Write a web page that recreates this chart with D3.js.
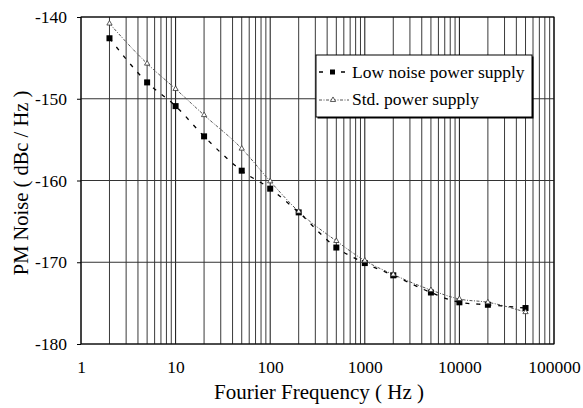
<!DOCTYPE html>
<html><head><meta charset="utf-8">
<script src="https://cdn.jsdelivr.net/npm/d3@7"></script>
<style>text{font-family:'Liberation Serif';}</style>
</head><body style="margin:0;background:#fff"><svg id="c" width="583" height="408" style="display:block" font-family="Liberation Serif"></svg>
<script>
const freqs = [2, 5, 10, 20, 50, 100, 200, 500, 1000, 2000, 5000, 10000, 20000, 50000];
const lowNoise = [-142.6, -148.0, -150.9, -154.6, -158.8, -161.0, -163.9, -168.2, -170.1, -171.6, -173.7, -174.9, -175.2, -175.6];
const stdSupply = [-140.8, -145.7, -148.8, -152.0, -156.1, -160.1, -163.8, -167.4, -169.8, -171.5, -173.4, -174.5, -174.9, -176.1];
const xTicks = [1, 10, 100, 1000, 10000, 100000];
const yTicks = [-180, -170, -160, -150, -140];
const seriesNames = ["Low noise power supply", "Std. power supply"];

const FONT = "Liberation Serif";
const svg = d3.select("#c");
const L = 81, R = 554, T = 17, B = 344;
const x = d3.scaleLog().domain([1, 100000]).range([L, R]);
const y = d3.scaleLinear().domain([-180, -140]).range([B, T]);

const minor = [];
for (let d = 1; d < 100000; d *= 10) for (let k = 2; k <= 9; k++) minor.push(d * k);
svg.append("g").selectAll("line").data(minor).join("line")
  .attr("x1", d => x(d)).attr("x2", d => x(d)).attr("y1", T).attr("y2", B)
  .attr("stroke", "#3a3a3a").attr("stroke-width", 1);
svg.append("g").selectAll("line").data(xTicks).join("line")
  .attr("x1", d => x(d)).attr("x2", d => x(d)).attr("y1", T).attr("y2", B)
  .attr("stroke", "#111").attr("stroke-width", 1);
svg.append("g").selectAll("line").data(yTicks).join("line")
  .attr("x1", L).attr("x2", R).attr("y1", d => y(d)).attr("y2", d => y(d))
  .attr("stroke", "#333").attr("stroke-width", 1);

svg.append("rect").attr("x", L).attr("y", T).attr("width", R - L).attr("height", B - T)
  .attr("fill", "none").attr("stroke", "#000").attr("stroke-width", 1);

const fmt = d => String(d);
const ya = d3.axisLeft(y).tickValues(yTicks).tickSize(4).tickPadding(10).tickFormat(fmt);
const gy = svg.append("g").attr("transform", `translate(${L},0)`).call(ya)
  .attr("font-family", FONT).attr("font-size", 17.5);
gy.select(".domain").remove();
gy.selectAll("text").attr("font-family", FONT).attr("font-size", 17.5).attr("fill", "#000");
const xa = d3.axisBottom(x).tickValues(xTicks).tickSize(0).tickPadding(17).tickFormat(fmt);
const gx = svg.append("g").attr("transform", `translate(0,${B})`).call(xa)
  .attr("font-family", FONT).attr("font-size", 17.5);
gx.select(".domain").remove();
gx.selectAll("text").attr("font-family", FONT).attr("font-size", 17.5).attr("fill", "#000");

svg.append("text").attr("x", 319).attr("y", 399).attr("text-anchor", "middle")
  .attr("font-family", FONT).attr("font-size", 21).text("Fourier Frequency ( Hz )");
svg.append("text").attr("transform", `translate(28,183) rotate(-90)`).attr("text-anchor", "middle")
  .attr("font-family", FONT).attr("font-size", 20.5).text("PM Noise ( dBc / Hz )");

const line = d3.line().x(d => x(d[0])).y(d => y(d[1])).curve(d3.curveMonotoneX);
const lowData = freqs.map((f, i) => [f, lowNoise[i]]);
const stdData = freqs.map((f, i) => [f, stdSupply[i]]);

svg.append("path").datum(stdData).attr("d", line).attr("fill", "none")
  .attr("stroke", "#555").attr("stroke-width", 1).attr("stroke-dasharray", "3,1.5,1,1.5");
svg.append("path").datum(lowData).attr("d", line).attr("fill", "none")
  .attr("stroke", "#000").attr("stroke-width", 1.3).attr("stroke-dasharray", "4,7");

svg.append("g").selectAll("rect").data(lowData).join("rect")
  .attr("x", d => x(d[0]) - 3).attr("y", d => y(d[1]) - 3).attr("width", 6).attr("height", 6).attr("fill", "#000");
const tri = d3.symbol().type(d3.symbolTriangle).size(12);
svg.append("g").selectAll("path").data(stdData).join("path")
  .attr("transform", d => `translate(${x(d[0])},${y(d[1])})`).attr("d", tri)
  .attr("fill", "#fff").attr("stroke", "#333").attr("stroke-width", 0.8);

const lg = svg.append("g").attr("transform", "translate(316,55)");
lg.append("rect").attr("x", 1.5).attr("y", 1.5).attr("width", 216).attr("height", 62).attr("fill", "#000");
lg.append("rect").attr("width", 216).attr("height", 62).attr("fill", "#fff").attr("stroke", "#000").attr("stroke-width", 1);
lg.append("line").attr("x1", 3).attr("x2", 33).attr("y1", 17).attr("y2", 17).attr("stroke", "#000").attr("stroke-width", 1.3).attr("stroke-dasharray", "4,7");
lg.append("rect").attr("x", 14).attr("y", 14.5).attr("width", 5).attr("height", 5).attr("fill", "#000");
lg.append("line").attr("x1", 3).attr("x2", 33).attr("y1", 45).attr("y2", 45).attr("stroke", "#555").attr("stroke-dasharray", "3,1.5,1,1.5");
lg.append("path").attr("transform", "translate(17,45)").attr("d", tri).attr("fill", "#fff").attr("stroke", "#333").attr("stroke-width", 0.8);
lg.selectAll("text.l").data(seriesNames).join("text").attr("class", "l")
  .attr("x", 36).attr("y", (d, i) => 23 + i * 27)
  .attr("font-family", FONT).attr("font-size", 17.5).text(d => d);
</script></body></html>
